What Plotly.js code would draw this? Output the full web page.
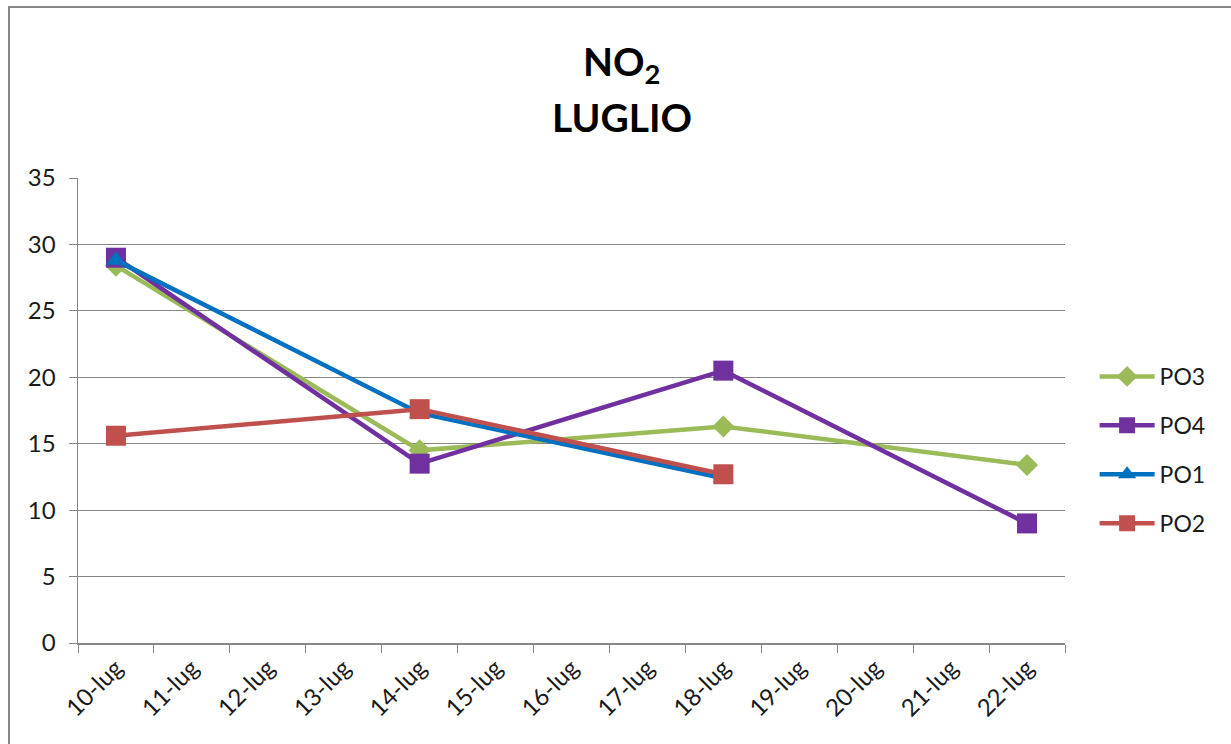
<!DOCTYPE html>
<html>
<head>
<meta charset="utf-8">
<script src="https://cdn.plot.ly/plotly-3.0.1.min.js"></script>
<style>
  html, body { margin: 0; padding: 0; background: #ffffff; overflow: hidden; }
  #wrap { position: relative; width: 1231px; height: 744px; }
  #chart { position: absolute; left: 0; top: 0; width: 1231px; height: 744px; }
  #frame { position: absolute; left: 8px; top: 6px; width: 1300px; height: 800px;
           border-left: 2px solid #878787; border-top: 2px solid #878787; pointer-events: none; }
</style>
</head>
<body>
<div id="wrap">
  <div id="chart"></div>
  <div id="frame"></div>
</div>
<script>
// ---- data ----
const categories = ['10-lug','11-lug','12-lug','13-lug','14-lug','15-lug','16-lug',
                    '17-lug','18-lug','19-lug','20-lug','21-lug','22-lug'];
const yTicks = [0, 5, 10, 15, 20, 25, 30, 35];

const po3Dates = ['10-lug','14-lug','18-lug','22-lug'];
const po3Values = [28.4, 14.5, 16.3, 13.4];

const po4Dates = ['10-lug','14-lug','18-lug','22-lug'];
const po4Values = [29.0, 13.5, 20.5, 9.0];

const po1Dates = ['10-lug','14-lug','18-lug'];
const po1Values = [28.8, 17.3, 12.4];

const po2Dates = ['10-lug','14-lug','18-lug'];
const po2Values = [15.6, 17.6, 12.7];

const seriesNames = ['PO3','PO4','PO1','PO2'];
const chartTitle = 'NO<sub>2</sub>';
const chartSubtitle = 'LUGLIO';

// ---- styles ----
const FONT = 'Lato, "Open Sans", sans-serif';
const colors = { PO3: '#9BBB59', PO4: '#7030A0', PO1: '#0070C0', PO2: '#C0504D' };

function mk(name, x, y, symbol, size) {
  return {
    type: 'scatter', mode: 'lines+markers', name: name, legendgroup: name,
    x: x, y: y,
    line: { color: colors[name], width: 4.5 },
    marker: { color: colors[name], symbol: symbol, size: size, line: { width: 0 } }
  };
}

const data = [
  mk(seriesNames[0], po3Dates, po3Values, 'diamond', 17),
  mk(seriesNames[1], po4Dates, po4Values, 'square', 20),
  mk(seriesNames[2], po1Dates, po1Values, 'triangle-up', 18),
  mk(seriesNames[3], po2Dates, po2Values, 'square', 20)
];

const layout = {
  width: 1231, height: 744,
  paper_bgcolor: 'rgba(0,0,0,0)',
  plot_bgcolor: '#ffffff',
  margin: { l: 78, r: 166, t: 178, b: 101, pad: 0 },
  font: { family: FONT, size: 23, color: '#1a1a1a' },
  title: {
    text: chartTitle,
    font: { family: FONT, size: 39, color: '#000000', weight: 'bold' },
    xref: 'container', x: 0.505, xanchor: 'center',
    yref: 'container', y: 1 - 62 / 744, yanchor: 'middle'
  },
  annotations: [{
    text: chartSubtitle, showarrow: false,
    xref: 'paper', yref: 'paper',
    x: (621.5 - 78) / 987, xanchor: 'center',
    y: (643 - 117) / 465, yanchor: 'middle',
    font: { family: FONT, size: 39, color: '#000000', weight: 'bold' }
  }],
  xaxis: {
    type: 'category',
    categoryorder: 'array', categoryarray: categories,
    tickvals: categories, ticktext: categories,
    range: [-0.5, categories.length - 0.5],
    tickson: 'boundaries',
    ticks: 'outside', ticklen: 8, tickcolor: '#868686', tickwidth: 1,
    tickangle: -45,
    showgrid: false, zeroline: false,
    showline: true, linecolor: '#868686', linewidth: 1.5,
    tickfont: { family: FONT, size: 24, color: '#1a1a1a' },
    fixedrange: true
  },
  yaxis: {
    range: [0, 35],
    tickvals: yTicks,
    ticks: 'outside', ticklen: 8, tickcolor: '#868686', tickwidth: 1,
    showgrid: true, gridcolor: '#868686', gridwidth: 1,
    zeroline: false,
    showline: true, linecolor: '#868686', linewidth: 1.5,
    tickfont: { family: FONT, size: 24, color: '#1a1a1a' },
    ticklabelstandoff: 8,
    fixedrange: true
  },
  showlegend: true,
  legend: {
    x: 1.03, xanchor: 'left',
    y: (643 - 450) / 465, yanchor: 'middle',
    font: { family: FONT, size: 23, color: '#1a1a1a' },
    itemwidth: 55,
    tracegroupgap: 16,
    bgcolor: 'rgba(0,0,0,0)'
  }
};

Plotly.newPlot('chart', data, layout, { staticPlot: true, displayModeBar: false });
</script>
</body>
</html>
